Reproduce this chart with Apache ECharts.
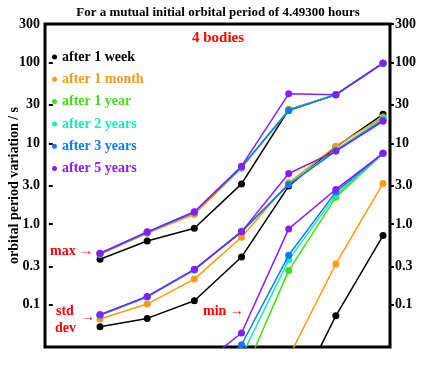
<!DOCTYPE html>
<html>
<head>
<meta charset="utf-8">
<script src="https://cdn.jsdelivr.net/npm/echarts@6/dist/echarts.min.js"></script>
<style>html,body{margin:0;padding:0;background:#fff}#c{width:436px;height:371px}</style>
</head>
<body>
<div id="c"></div>
<script>
// ---- data ----
var xs = [1, 2, 3, 4, 5, 6, 7];
var seriesNames = ['after 1 week', 'after 1 month', 'after 1 year', 'after 2 years', 'after 3 years', 'after 5 years'];
var seriesColors = ['#000000', '#FF9A10', '#3FE010', '#10EEBB', '#1177FF', '#8A1BFF'];

var maxWeek   = [0.366, 0.617, 0.885, 3.14, 26, 40, 98];
var maxMonth  = [0.42, 0.77, 1.32, 4.9, 26, 40, 98];
var maxYear1  = [0.43, 0.79, 1.40, 5.1, 25.5, 40, 98];
var maxYear2  = [0.43, 0.79, 1.40, 5.1, 25.5, 40, 98];
var maxYear3  = [0.43, 0.79, 1.40, 5.1, 25.5, 40, 98];
var maxYear5  = [0.435, 0.80, 1.42, 5.2, 41, 40, 98];

var stdWeek   = [0.0535, 0.0678, 0.112, 0.39, 2.95, 9.0, 22.8];
var stdMonth  = [0.0666, 0.102, 0.208, 0.685, 3.24, 9.2, 21.1];
var stdYear1  = [0.074, 0.125, 0.27, 0.82, 3.1, 8.3, 20.2];
var stdYear2  = [0.074, 0.125, 0.27, 0.81, 3.1, 8.2, 19.8];
var stdYear3  = [0.075, 0.126, 0.272, 0.80, 3.08, 8.0, 19.3];
var stdYear5  = [0.0753, 0.127, 0.275, 0.80, 4.23, 8.0, 18.7];

var minWeek   = [null, null, null, null, 0.0049, 0.073, 0.72];
var minMonth  = [null, null, null, null, 0.0224, 0.32, 3.18];
var minYear1  = [null, null, null, 0.0121, 0.265, 2.14, 7.5];
var minYear2  = [null, null, null, 0.023, 0.36, 2.3, 7.5];
var minYear3  = [null, null, 0.01, 0.032, 0.41, 2.5, 7.5];
var minYear5  = [null, null, 0.0153, 0.0447, 0.87, 2.68, 7.5];

var yTickValues = [0.1, 0.3, 1, 3, 10, 30, 100, 300];
var yTickLabels = ['0.1', '0.3', '1.0', '3.0', '10', '30', '100', '300'];

var titleText = 'For a mutual initial orbital period of 4.49300 hours';
var yAxisTitle = 'orbital period variation / s';
var subTitle = '4 bodies';

// ---- build ----
var groups = [
  [maxWeek, stdWeek, minWeek],
  [maxMonth, stdMonth, minMonth],
  [maxYear1, stdYear1, minYear1],
  [maxYear2, stdYear2, minYear2],
  [maxYear3, stdYear3, minYear3],
  [maxYear5, stdYear5, minYear5]
];
var FONT = '"Liberation Serif", "DejaVu Serif", serif';

function fmt(v) {
  var best = 0, bd = Infinity;
  for (var i = 0; i < yTickValues.length; i++) {
    var d = Math.abs(Math.log(v) - Math.log(yTickValues[i]));
    if (d < bd) { bd = d; best = i; }
  }
  return yTickLabels[best];
}

var series = [];
groups.forEach(function (g, si) {
  g.forEach(function (arr) {
    series.push({
      type: 'line',
      name: seriesNames[si],
      xAxisIndex: 0,
      yAxisIndex: 0,
      data: xs.map(function (x, i) { return [x, arr[i] == null ? '-' : arr[i]]; }),
      symbol: 'circle',
      symbolSize: 7,
      showSymbol: true,
      clip: true,
      itemStyle: { color: seriesColors[si] },
      lineStyle: { color: seriesColors[si], width: 1.5 },
      emphasis: { disabled: true },
      z: 2 + si
    });
  });
});

function yAxisCfg(pos, withName) {
  var o = {
    type: 'log', logBase: 10, min: 0.03, max: 300, position: pos,
    axisLine: { show: false },
    splitLine: { show: false },
    minorTick: { show: false },
    minorSplitLine: { show: false },
    axisTick: { show: true, customValues: yTickValues, length: 4, lineStyle: { color: '#000', width: 2 } },
    axisLabel: { customValues: yTickValues, formatter: fmt, fontFamily: FONT, fontWeight: 'bold', fontSize: 14, color: '#000', margin: 5 }
  };
  if (withName) {
    o.name = yAxisTitle;
    o.nameLocation = 'middle';
    o.nameGap = 24;
    o.nameMoveOverlap = false;
    o.nameTextStyle = { fontFamily: FONT, fontWeight: 'bold', fontSize: 14, color: '#000' };
  }
  return o;
}

var chart = echarts.init(document.getElementById('c'), null, { renderer: 'canvas' });
chart.setOption({
  animation: false,
  backgroundColor: '#fff',
  title: {
    text: titleText, left: 'center', top: 1,
    textStyle: { fontFamily: FONT, fontWeight: 'bold', fontSize: 13, color: '#000' }
  },
  grid: { left: 45, right: 46, top: 24, bottom: 24, show: true, borderColor: '#000', borderWidth: 3, backgroundColor: 'transparent', outerBoundsMode: 'none', containLabel: false },
  legend: {
    orient: 'vertical', left: 52, top: 50, itemGap: 8.3, padding: 0,
    icon: 'circle', itemWidth: 5, itemHeight: 5,
    selectedMode: false,
    textStyle: { fontFamily: FONT, fontWeight: 'bold', fontSize: 14 },
    data: seriesNames.map(function (n, i) { return { name: n, textStyle: { color: seriesColors[i] } }; })
  },
  xAxis: {
    type: 'value', min: -0.166, max: 7.148,
    axisLine: { show: false }, axisTick: { show: false }, axisLabel: { show: false }, splitLine: { show: false }
  },
  yAxis: [yAxisCfg('left', true), yAxisCfg('right', false)],
  graphic: [
    { type: 'text', left: 'center', top: 31, style: { text: subTitle, fill: '#FF0000', font: 'bold 15px ' + FONT } },
    { type: 'text', left: 50, top: 244, style: { text: 'max \u2192', fill: '#FF0000', font: 'bold 14px ' + FONT } },
    { type: 'text', left: 56, top: 304, style: { text: 'std', fill: '#FF0000', font: 'bold 14px ' + FONT } },
    { type: 'text', left: 81, top: 310, style: { text: '\u2192', fill: '#FF0000', font: 'bold 14px ' + FONT } },
    { type: 'text', left: 55, top: 321, style: { text: 'dev', fill: '#FF0000', font: 'bold 14px ' + FONT } },
    { type: 'text', left: 203, top: 304, style: { text: 'min \u2192', fill: '#FF0000', font: 'bold 14px ' + FONT } }
  ],
  series: series
});
</script>
</body>
</html>
